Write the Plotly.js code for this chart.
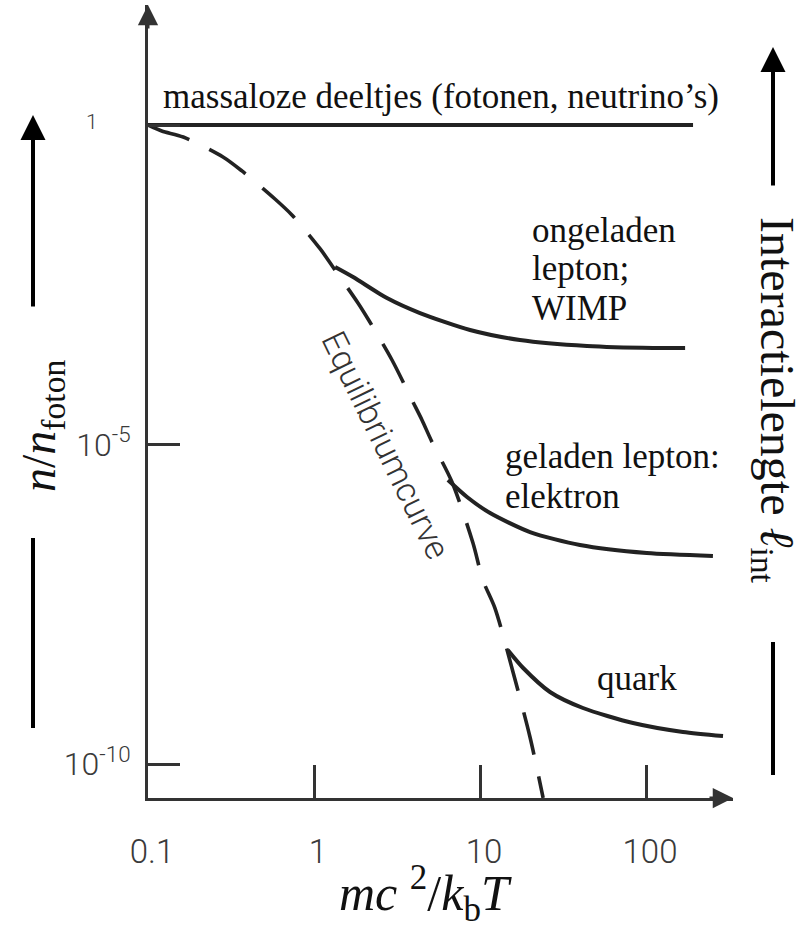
<!DOCTYPE html>
<html><head><meta charset="utf-8">
<script src="https://cdn.plot.ly/plotly-3.0.1.min.js"></script>
<style>html,body{margin:0;padding:0;background:#fff}</style>
</head><body><div id="chart" style="width:800px;height:933px"></div>
<script>
// ---- data ----
const xTickVals = [0.1, 1, 10, 100];
const xTickText = ['0.1', '1', '10', '100'];
const yTickVals = [1e-10, 1e-5, 1];
const yTickText = ['10<sup>-10</sup>', '10<sup>-5</sup>', ''];
const yTopLabel = '1';

const masslessX = [0.1, 192];
const masslessY = [1, 1];

const equilibriumX = [0.1, 0.121, 0.163, 0.283, 0.368, 0.582, 0.736, 1.09, 1.30, 1.84, 2.17, 2.95, 3.89, 4.47, 5.14, 6.78, 9.07, 10.4, 12.3, 15.8, 20.0, 24.0];
const equilibriumY = [1, 0.805, 0.649, 0.316, 0.191, 0.0695, 0.0391, 0.0115, 6.0e-3, 1.64e-3, 8.26e-4, 2.10e-4, 4.97e-5, 2.42e-5, 1.09e-5, 2.59e-6, 2.87e-7, 7.57e-8, 2.76e-8, 2.75e-9, 2.65e-10, 2.94e-11];

const wimpX = [1.34, 1.72, 2.75, 4.35, 8.71, 17.4, 44.1, 110, 172];
const wimpY = [6.0e-3, 4.18e-3, 1.96e-3, 1.14e-3, 6.19e-4, 4.32e-4, 3.48e-4, 3.24e-4, 3.24e-4];

const electronX = [6.41, 8.35, 11.5, 20.0, 40.0, 101, 253];
const electronY = [2.78e-6, 1.51e-6, 8.47e-7, 4.27e-7, 2.67e-7, 2.00e-7, 1.80e-7];

const quarkX = [14.7, 18.2, 26.4, 41.7, 83.5, 167, 291];
const quarkY = [6.08e-9, 3.18e-9, 1.34e-9, 7.52e-10, 4.38e-10, 3.17e-10, 2.74e-10];

// ---- layout helpers (pixel -> paper) ----
const L = 148, R = 733, T = 5, B = 798;
const px = x => (x - L) / (R - L);
const py = y => (B - y) / (B - T);

const ink = '#222';
const solid = {color: ink, width: 4, shape: 'spline', smoothing: 0.7};

const traces = [
  {x: masslessX, y: masslessY, mode: 'lines', line: {color: ink, width: 4}, hoverinfo: 'skip'},
  {x: equilibriumX, y: equilibriumY, mode: 'lines', line: {color: ink, width: 3.6, dash: '44px,22px', shape: 'spline', smoothing: 0.8}, hoverinfo: 'skip'},
  {x: wimpX, y: wimpY, mode: 'lines', line: solid, hoverinfo: 'skip'},
  {x: electronX, y: electronY, mode: 'lines', line: solid, hoverinfo: 'skip'},
  {x: quarkX, y: quarkY, mode: 'lines', line: solid, hoverinfo: 'skip'}
];

const serif = 'Liberation Serif, Times New Roman, serif';
const sans = 'Roboto, Lato, sans-serif';
const lbl = (text, x, y) => ({text, xref: 'paper', yref: 'paper', x: px(x), y: py(y), xanchor: 'left', yanchor: 'middle', showarrow: false, font: {family: serif, size: 35, color: '#111'}});
const arrow = (x, y, ax, ay, w, s, c) => ({text: '', xref: 'paper', yref: 'paper', x: px(x), y: py(y), ax, ay, axref: 'pixel', ayref: 'pixel', showarrow: true, arrowhead: 2, arrowwidth: w, arrowsize: s, arrowcolor: c});

const annotations = [
  lbl('massaloze deeltjes (fotonen, neutrino\u2019s)', 161, 96),
  lbl('ongeladen', 530, 230),
  lbl('lepton;', 530, 269),
  lbl('WIMP', 530, 308),
  lbl('geladen lepton:', 503, 456),
  lbl('elektron', 503, 497),
  lbl('quark', 595, 678),
  {text: yTopLabel, xref: 'paper', yref: 'paper', x: px(92), y: py(122), xanchor: 'center', yanchor: 'middle', showarrow: false, font: {family: sans, size: 21, color: '#3a3a3a', weight: 300}},
  {text: 'Equilibriumcurve', xref: 'paper', yref: 'paper', x: px(386), y: py(445), textangle: 64, showarrow: false, font: {family: sans, size: 34, color: '#333', weight: 300}},
  {text: '<i>mc</i> <sup>2</sup>/<i>k</i><sub>b</sub><i>T</i>', xref: 'paper', yref: 'paper', x: px(425), y: py(893), xanchor: 'center', yanchor: 'middle', showarrow: false, font: {family: serif, size: 50, color: '#111'}},
  {text: '<i>n</i>/<i>n</i><sub>foton</sub>', xref: 'paper', yref: 'paper', x: px(42), y: py(426), textangle: -90, xanchor: 'center', yanchor: 'middle', showarrow: false, font: {family: serif, size: 48, color: '#111'}},
  {text: 'Interactielengte <i>\u2113</i><sub>int</sub>', xref: 'paper', yref: 'paper', x: px(774), y: py(400), textangle: 90, xanchor: 'center', yanchor: 'middle', showarrow: false, font: {family: serif, size: 48, color: '#111'}},
  // axis arrowheads
  arrow(733, 798, -25, 0, 3, 1.35, '#333'),
  arrow(148, 5, 0, 25, 3, 1.35, '#333'),
  // side arrows
  arrow(33, 115, 0, 193, 4, 1.25, '#000'),
  arrow(773, 47, 0, 140, 4, 1.25, '#000')
];

const shapes = [
  {type: 'line', xref: 'paper', yref: 'paper', x0: px(33), x1: px(33), y0: py(538), y1: py(728), line: {color: '#000', width: 4}},
  {type: 'line', xref: 'paper', yref: 'paper', x0: px(773), x1: px(773), y0: py(642), y1: py(775), line: {color: '#000', width: 4}}
];

const axisCommon = {
  type: 'log', ticks: 'inside', tickwidth: 3, tickcolor: '#333',
  showline: true, linewidth: 3, linecolor: '#333', showgrid: false, zeroline: false, fixedrange: true
};

const layout = {
  width: 800, height: 933,
  margin: {l: L, r: 800 - R, t: T, b: 933 - B},
  paper_bgcolor: '#fff', plot_bgcolor: '#fff', showlegend: false,
  xaxis: Object.assign({}, axisCommon, {
    range: [-1, 2.524], tickmode: 'array', tickvals: xTickVals, ticktext: xTickText, ticklen: 33,
    tickfont: {family: sans, size: 33, color: '#3a3a3a', weight: 300}, ticklabelstandoff: 22, ticklabelshift: 4
  }),
  yaxis: Object.assign({}, axisCommon, {
    range: [-10.532, 1.878], tickmode: 'array', tickvals: yTickVals, ticktext: yTickText, ticklen: 32,
    tickfont: {family: sans, size: 32, color: '#3a3a3a', weight: 300}, ticklabelstandoff: 8
  }),
  annotations, shapes
};

Plotly.newPlot('chart', traces, layout, {displayModeBar: false, staticPlot: true});
</script>
</body></html>
